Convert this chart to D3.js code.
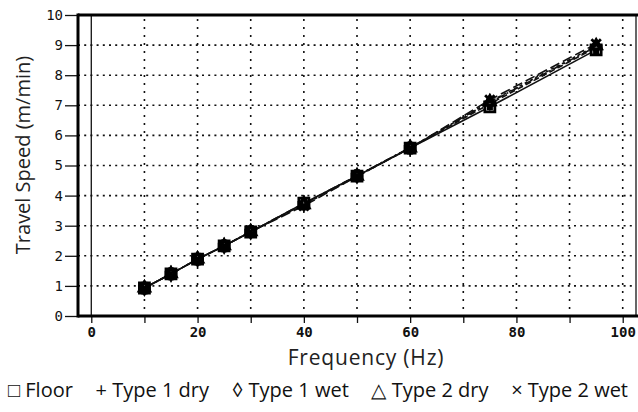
<!DOCTYPE html>
<html>
<head>
<meta charset="utf-8">
<script src="https://cdn.jsdelivr.net/npm/d3@7"></script>
<style>
  body { margin: 0; background: #fff; }
  svg { display: block; }
</style>
</head>
<body>
<svg></svg>
<script>
var width = 638;
var height = 412;

// frequencies (Hz) measured
const freqs = [10, 15, 20, 25, 30, 40, 50, 60, 75, 95];

// travel speed (m/min) per surface
const floorSpeed  = [0.93, 1.40, 1.89, 2.33, 2.79, 3.75, 4.65, 5.58, 6.95, 8.84];
const type1Dry    = [0.93, 1.40, 1.89, 2.33, 2.80, 3.72, 4.66, 5.58, 7.05, 8.92];
const type1Wet    = [0.93, 1.40, 1.89, 2.33, 2.80, 3.74, 4.66, 5.60, 7.10, 8.95];
const type2Dry    = [0.93, 1.40, 1.89, 2.33, 2.80, 3.70, 4.64, 5.58, 7.12, 8.98];
const type2Wet    = [0.93, 1.40, 1.89, 2.33, 2.80, 3.66, 4.64, 5.58, 7.18, 9.04];

const seriesNames = ["Floor", "Type 1 dry", "Type 1 wet", "Type 2 dry", "Type 2 wet"];
const legendGlyphs = ["\u25A1", "+", "\u25CA", "\u25B3", "\u00D7"];

const xTicks = [0, 10, 20, 30, 40, 50, 60, 70, 80, 90, 100];
const xTickLabels = [0, 20, 40, 60, 80, 100];
const yTicks = [0, 1, 2, 3, 4, 5, 6, 7, 8, 9, 10];

const series = [floorSpeed, type1Dry, type1Wet, type2Dry, type2Wet].map(function(vals, i) {
    return {
        name: seriesNames[i],
        points: vals.map(function(v, j) { return { x: freqs[j], y: v }; })
    };
});

// plot frame
const plotLeft = 78, plotRight = 636, plotTop = 15, plotBottom = 316;

const x = d3.scaleLinear().domain([-2.5, 102.5]).range([plotLeft, plotRight]);
const y = d3.scaleLinear().domain([0, 10]).range([plotBottom, plotTop]);

const svg = d3.select("svg")
    .attr("width", width)
    .attr("height", height)
    .attr("viewBox", [0, 0, width, height]);

const tickFont = "'DejaVu Sans Mono', monospace";
const textFont = "'Open Sans', 'Noto Sans', sans-serif";

// dotted grid
svg.append("g")
    .selectAll("line")
    .data(yTicks.filter(function(d) { return d > 0 && d < 10; }))
    .enter().append("line")
      .attr("x1", plotLeft).attr("x2", plotRight)
      .attr("y1", function(d) { return y(d); })
      .attr("y2", function(d) { return y(d); })
      .attr("stroke", "#111")
      .attr("stroke-width", 1.6)
      .attr("stroke-dasharray", "2,4.2");

svg.append("g")
    .selectAll("line")
    .data(xTicks.filter(function(d) { return d > 0; }))
    .enter().append("line")
      .attr("x1", function(d) { return x(d); })
      .attr("x2", function(d) { return x(d); })
      .attr("y1", plotTop + 4).attr("y2", plotBottom)
      .attr("stroke", "#111")
      .attr("stroke-width", 1.6)
      .attr("stroke-dasharray", "2,6");

// solid line at x = 0
svg.append("line")
    .attr("x1", x(0)).attr("x2", x(0))
    .attr("y1", plotTop).attr("y2", plotBottom)
    .attr("stroke", "#111")
    .attr("stroke-width", 1.3);

// axes
const xAxis = d3.axisBottom(x)
    .tickValues(xTicks)
    .tickSize(7)
    .tickPadding(6)
    .tickFormat(function(d) { return xTickLabels.indexOf(d) >= 0 ? d : ""; });

const yAxis = d3.axisLeft(y)
    .tickValues(yTicks)
    .tickSize(13)
    .tickPadding(2)
    .tickFormat(d3.format("d"));

const gx = svg.append("g")
    .attr("transform", "translate(0," + plotBottom + ")")
    .call(xAxis);
gx.select(".domain").remove();
gx.selectAll(".tick line").attr("stroke", "#111").attr("stroke-width", 1.3);
gx.selectAll(".tick text")
    .attr("font-family", tickFont)
    .attr("font-size", 14)
    .attr("font-weight", "bold")
    .attr("fill", "#111")
    .attr("dy", "0.6em");

const gy = svg.append("g")
    .attr("transform", "translate(" + plotLeft + ",0)")
    .call(yAxis);
gy.select(".domain").remove();
gy.selectAll(".tick line").attr("stroke", "#111").attr("stroke-width", 1.3);
gy.selectAll(".tick text")
    .attr("font-family", tickFont)
    .attr("font-size", 14)
    .attr("fill", "#111");

// frame
svg.append("line").attr("x1", plotLeft).attr("x2", plotRight + 2).attr("y1", plotTop).attr("y2", plotTop)
    .attr("stroke", "#000").attr("stroke-width", 3);
svg.append("line").attr("x1", plotLeft).attr("x2", plotRight + 2).attr("y1", plotBottom).attr("y2", plotBottom)
    .attr("stroke", "#000").attr("stroke-width", 3);
svg.append("line").attr("x1", plotLeft).attr("x2", plotLeft).attr("y1", plotTop - 1.5).attr("y2", plotBottom + 1.5)
    .attr("stroke", "#000").attr("stroke-width", 3);
svg.append("line").attr("x1", plotRight).attr("x2", plotRight).attr("y1", plotTop).attr("y2", plotBottom)
    .attr("stroke", "#000").attr("stroke-width", 1.2);

// series lines
const dashes = [null, "6,3", "8,3,2,3", "3,3", "10,4"];
const line = d3.line()
    .x(function(d) { return x(d.x); })
    .y(function(d) { return y(d.y); });

svg.append("g")
    .selectAll("path")
    .data(series)
    .enter().append("path")
      .attr("d", function(d) { return line(d.points); })
      .attr("fill", "none")
      .attr("stroke", "#111")
      .attr("stroke-width", 1.6)
      .attr("stroke-dasharray", function(d, i) { return dashes[i]; });

// markers, kept inside the square so stacked ones read as a dark block
const symbols = [d3.symbolSquare, d3.symbolCross, d3.symbolDiamond, d3.symbolTriangle, d3.symbolX];
const symbolSizes = [100, 55, 45, 50, 60];

series.forEach(function(s, i) {
    const shape = d3.symbol().type(symbols[i]).size(symbolSizes[i]);
    svg.append("g")
        .selectAll("path")
        .data(s.points)
        .enter().append("path")
          .attr("transform", function(d) { return "translate(" + x(d.x) + "," + y(d.y) + ")"; })
          .attr("d", shape)
          .attr("fill", i == 0 ? "#fff" : "none")
          .attr("stroke", "#000")
          .attr("stroke-width", 2.8);
});

// axis titles
svg.append("text")
    .attr("x", 366)
    .attr("y", 365)
    .attr("text-anchor", "middle")
    .attr("font-family", textFont)
    .attr("font-size", 21)
    .attr("letter-spacing", 0.8)
    .attr("fill", "#222")
    .text("Frequency (Hz)");

svg.append("text")
    .attr("transform", "translate(30,155) rotate(-90)")
    .attr("text-anchor", "middle")
    .attr("font-family", textFont)
    .attr("font-size", 20)
    .attr("fill", "#222")
    .text("Travel Speed (m/min)");

// legend, spread across the bottom
const legend = svg.append("g");
const items = legend.selectAll("text")
    .data(seriesNames)
    .enter().append("text")
      .attr("y", 397)
      .attr("font-family", textFont)
      .attr("font-size", 20)
      .attr("fill", "#111")
      .text(function(d, i) { return legendGlyphs[i] + " " + d; });

const legendLeft = 8, legendRight = 628;
var widths = [];
items.each(function() { widths.push(this.getComputedTextLength()); });
const gap = (legendRight - legendLeft - d3.sum(widths)) / (widths.length - 1);
var cursor = legendLeft;
items.attr("x", function(d, i) {
    const pos = cursor;
    cursor += widths[i] + gap;
    return pos;
});
</script>
</body>
</html>
